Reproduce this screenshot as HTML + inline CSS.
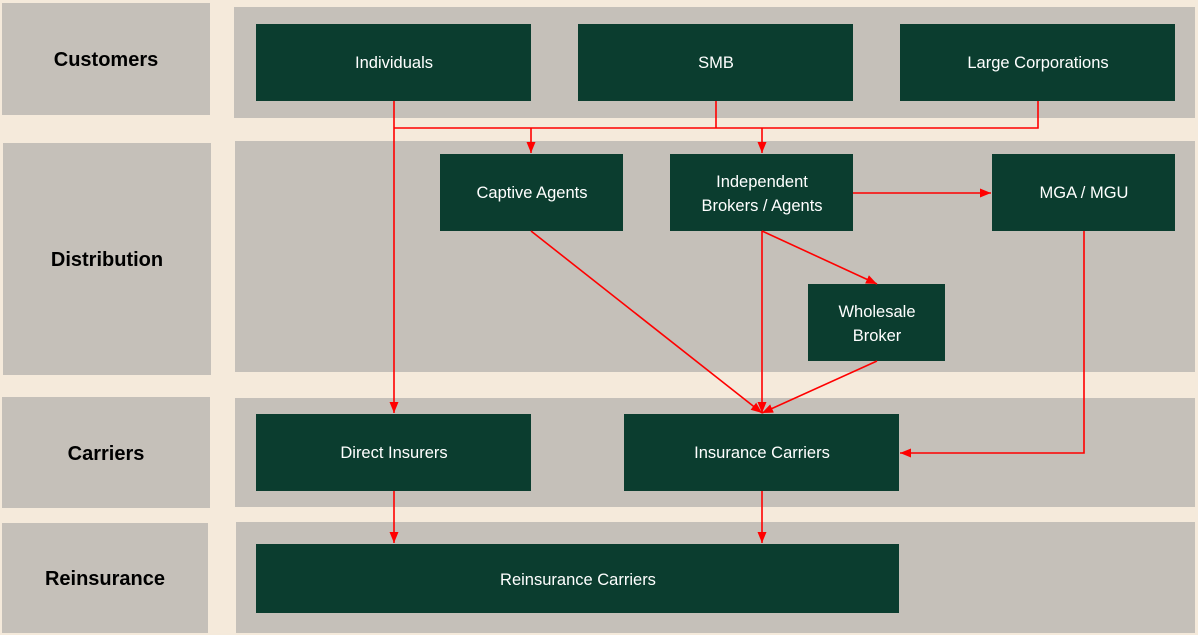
<!DOCTYPE html>
<html><head><meta charset="utf-8"><style>
html,body{margin:0;padding:0;background:#f5eadb;}
svg{display:block}
text{font-family:"Liberation Sans",sans-serif;}
.l{font-size:20px;font-weight:bold;fill:#000;text-anchor:middle;}
.b{font-size:16.5px;fill:#fff;text-anchor:middle;}
.g{fill:#c5c0b9}
.d{fill:#0b3d2f}
.r{stroke:#ff0000;stroke-width:1.6;fill:none}
</style></head><body>
<svg width="1198" height="635" viewBox="0 0 1198 635">
<defs><marker id="a" markerWidth="12" markerHeight="12" refX="11" refY="5.5" orient="auto" markerUnits="userSpaceOnUse"><path d="M0,1 L11,5.5 L0,10 z" fill="#ff0000"/></marker></defs>
<rect width="1198" height="635" fill="#f5eadb"/>
<rect class="g" x="2" y="3" width="208" height="112"/>
<rect class="g" x="3" y="143" width="208" height="232"/>
<rect class="g" x="2" y="397" width="208" height="111"/>
<rect class="g" x="2" y="523" width="206" height="110"/>
<rect class="g" x="234" y="7" width="961" height="111"/>
<rect class="g" x="235" y="141" width="960" height="231"/>
<rect class="g" x="235" y="398" width="960" height="109"/>
<rect class="g" x="236" y="522" width="959" height="111"/>
<text class="l" x="106" y="66">Customers</text>
<text class="l" x="107" y="266">Distribution</text>
<text class="l" x="106" y="460">Carriers</text>
<text class="l" x="105" y="585">Reinsurance</text>
<rect class="d" x="256" y="24" width="275" height="77"/>
<rect class="d" x="578" y="24" width="275" height="77"/>
<rect class="d" x="900" y="24" width="275" height="77"/>
<rect class="d" x="440" y="154" width="183" height="77"/>
<rect class="d" x="670" y="154" width="183" height="77"/>
<rect class="d" x="992" y="154" width="183" height="77"/>
<rect class="d" x="808" y="284" width="137" height="77"/>
<rect class="d" x="256" y="414" width="275" height="77"/>
<rect class="d" x="624" y="414" width="275" height="77"/>
<rect class="d" x="256" y="544" width="643" height="69"/>
<text class="b" x="394" y="68">Individuals</text>
<text class="b" x="716" y="68">SMB</text>
<text class="b" x="1038" y="68">Large Corporations</text>
<text class="b" x="532" y="198">Captive Agents</text>
<text class="b" x="762" y="187">Independent</text>
<text class="b" x="762" y="211">Brokers / Agents</text>
<text class="b" x="1084" y="198">MGA / MGU</text>
<text class="b" x="877" y="317">Wholesale</text>
<text class="b" x="877" y="341">Broker</text>
<text class="b" x="394" y="458">Direct Insurers</text>
<text class="b" x="762" y="458">Insurance Carriers</text>
<text class="b" x="578" y="585">Reinsurance Carriers</text>
<path class="r" d="M394,101 V413" marker-end="url(#a)"/>
<path class="r" d="M394,128 H1038 V101 M716,101 V128"/>
<path class="r" d="M531,128 V153" marker-end="url(#a)"/>
<path class="r" d="M762,128 V153" marker-end="url(#a)"/>
<path class="r" d="M853,193 H991" marker-end="url(#a)"/>
<path class="r" d="M762,231 V413" marker-end="url(#a)"/>
<path class="r" d="M762,231 L877,284" marker-end="url(#a)"/>
<path class="r" d="M531,231 L762,413" marker-end="url(#a)"/>
<path class="r" d="M877,361 L762,413" marker-end="url(#a)"/>
<path class="r" d="M1084,231 V453 H900" marker-end="url(#a)"/>
<path class="r" d="M394,491 V543" marker-end="url(#a)"/>
<path class="r" d="M762,491 V543" marker-end="url(#a)"/>
</svg>
</body></html>
